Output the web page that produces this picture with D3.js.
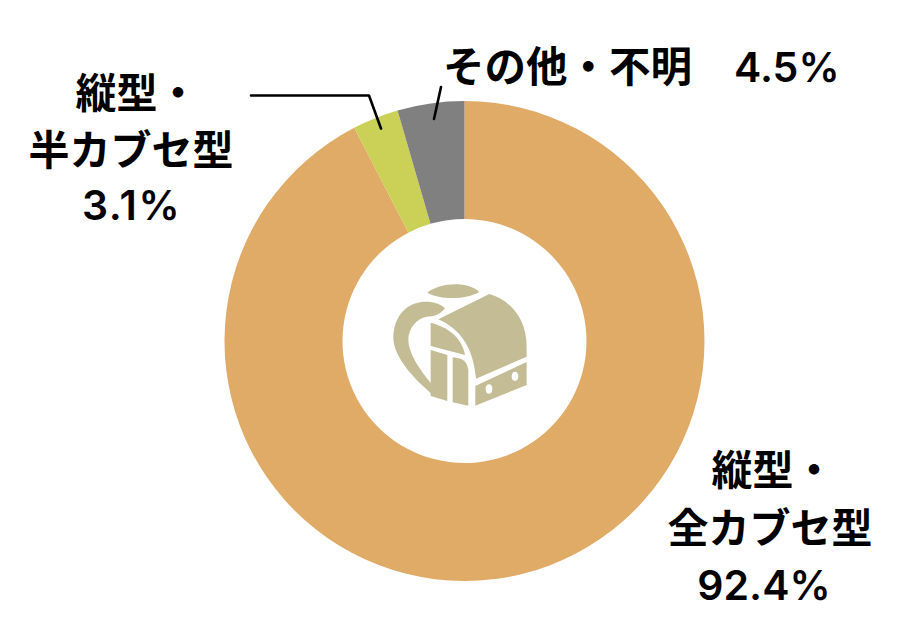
<!DOCTYPE html>
<html>
<head>
<meta charset="utf-8">
<script src="https://cdn.jsdelivr.net/npm/d3@7"></script>
<style>
  html, body { margin: 0; padding: 0; background: #fff; }
  text { font-family: Inter, "Noto Sans CJK JP", sans-serif; fill: #000; }
</style>
</head>
<body>
<svg id="chart" width="921" height="624"></svg>
<script>
const categories = ["縦型・全カブセ型", "縦型・半カブセ型", "その他・不明"];
const shares = [92.4, 3.1, 4.5];
const shareLabels = ["92.4%", "3.1%", "4.5%"];
const colors = ["#E0AA67", "#CBD057", "#808080"];

const svg = d3.select("#chart");
const cx = 464.5, cy = 341;

const pie = d3.pie().sort(null).value((d) => d)(shares);
const arc = d3.arc().innerRadius(122).outerRadius(240);

svg.append("g")
  .attr("transform", `translate(${cx},${cy})`)
  .selectAll("path")
  .data(pie)
  .join("path")
  .attr("d", arc)
  .attr("fill", (d, i) => colors[i])
  .attr("data-name", (d, i) => categories[i]);

// leader lines
const line = d3.line();
svg.append("g")
  .attr("fill", "none")
  .attr("stroke", "#000")
  .attr("stroke-width", 2.6)
  .attr("stroke-linecap", "round")
  .attr("stroke-linejoin", "round")
  .selectAll("path")
  .data([
    [[251, 95.5], [369, 95.5], [381, 128.5]],
    [[441, 87], [434, 119]]
  ])
  .join("path")
  .attr("d", line);

// labels
function label(x, y, str, anchor, size, weight, spacing) {
  svg.append("text")
    .attr("x", x)
    .attr("y", y)
    .attr("text-anchor", anchor)
    .attr("font-size", size)
    .attr("font-weight", weight)
    .attr("letter-spacing", spacing)
    .text(str);
}
label(773, 485, "縦型・", "middle", 41, 700, 0);
label(770, 543, "全カブセ型", "middle", 41, 700, 0);
label(764, 600, shareLabels[0], "middle", 41, 600, 0);
label(137, 108, "縦型・", "middle", 41, 700, 0);
label(131, 165, "半カブセ型", "middle", 41, 700, 0);
label(131.5, 220, shareLabels[1], "middle", 41, 600, 1.5);
label(443, 82, "その他・不明", "start", 41.5, 700, 0);
label(734, 82, shareLabels[2], "start", 41, 600, 0);

// randoseru icon in the middle, traced in zoomed coordinates
const icon = svg.append("g")
  .attr("transform", "translate(370,260) scale(0.3333)")
  .attr("fill", "#C3BC95");
[
  "M172,98 C205,70 290,60 328,96 C290,118 215,122 172,98 Z",
  "M225,145 C210,130 180,122 150,127 C100,135 70,180 70,235 C72,290 125,350 183,400 L183,370 C150,330 115,280 115,240 C115,205 140,175 170,170 C190,170 210,165 225,145 Z",
  "M205,178 L358,102 C420,120 470,175 470,260 L470,290 L318,356 C312,290 290,215 205,178 Z",
  "M182,188 C230,200 275,230 285,285 L182,258 Z",
  "M182,270 L232,285 L232,423 L182,408 Z",
  "M248,292 C275,295 290,300 295,330 L295,437 L248,427 Z",
  "M316,378 L470,306 L470,375 L316,437 Z"
].forEach((d) => icon.append("path").attr("d", d));
icon.selectAll("ellipse")
  .data([[357, 387], [435, 349]])
  .join("ellipse")
  .attr("cx", (d) => d[0])
  .attr("cy", (d) => d[1])
  .attr("rx", 10)
  .attr("ry", 14)
  .attr("fill", "#fff");
</script>
</body>
</html>
